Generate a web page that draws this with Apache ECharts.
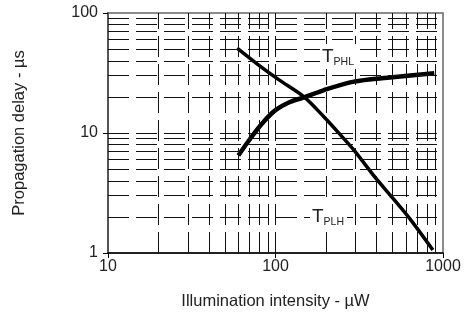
<!DOCTYPE html>
<html>
<head>
<meta charset="utf-8">
<script src="https://cdn.jsdelivr.net/npm/echarts@6/dist/echarts.min.js"></script>
<style>
  html, body { margin: 0; padding: 0; background: #fff; }
  #chart { width: 467px; height: 315px; }
</style>
</head>
<body>
<div id="chart"></div>
<script>
// T_PHL curve (falls with illumination)
var phlX = [59, 79, 105, 148, 195, 245, 294, 397, 500, 643, 870];
var phlY = [51, 37, 27.7, 20, 13.6, 9.6, 7.2, 4.2, 2.88, 1.88, 1.06];
// T_PLH curve (rises with illumination)
var plhX = [60, 70.8, 83.2, 100, 123, 148, 195, 294, 466, 887];
var plhY = [6.5, 9.0, 12.0, 15.5, 18.2, 19.8, 22.8, 26.8, 28.9, 31.5];

// dashed grid positions
var gridX = [20, 30, 40, 50, 60, 70, 80, 90, 100, 200, 300, 400, 500, 600, 700, 800, 900];
var gridY = [2, 3, 4, 5, 6, 7, 8, 9, 10, 20, 30, 40, 50, 60, 70, 80, 90];

var chart = echarts.init(document.getElementById('chart'));

function pairs(xs, ys) {
  return xs.map(function (x, i) { return [x, ys[i]]; });
}

var gridLines = gridX.map(function (v) { return { xAxis: v }; })
  .concat(gridY.map(function (v) { return { yAxis: v }; }));

var font = 'Liberation Sans, Arial, Helvetica, sans-serif';

chart.setOption({
  animation: false,
  grid: {
    left: 108, right: 24, top: 13, bottom: 62,
    show: true, borderColor: '#666', borderWidth: 1.5
  },
  xAxis: {
    type: 'log', logBase: 10, min: 10, max: 1000,
    name: 'Illumination intensity - µW',
    nameLocation: 'middle', nameGap: 40,
    nameTextStyle: { fontSize: 16.5, color: '#222', fontFamily: font },
    axisLine: { lineStyle: { color: '#000', width: 1.5 } },
    axisTick: { show: true, length: 5, lineStyle: { color: '#000' } },
    axisLabel: {
      fontSize: 16, color: '#222', margin: 6, fontFamily: font,
      formatter: function (v) { return String(Math.round(v)); }
    },
    splitLine: { show: false }
  },
  yAxis: {
    type: 'log', logBase: 10, min: 1, max: 100,
    name: 'Propagation delay - µs',
    nameLocation: 'middle', nameGap: 80,
    nameTextStyle: { fontSize: 16.5, color: '#222', fontFamily: font },
    axisLine: { show: true, lineStyle: { color: '#555', width: 2 } },
    axisTick: { show: true, length: 5, lineStyle: { color: '#000' } },
    axisLabel: {
      fontSize: 16, color: '#222', margin: 10, fontFamily: font,
      formatter: function (v) { return String(Math.round(v)); }
    },
    splitLine: { show: false }
  },
  series: [
    {
      type: 'line',
      data: [],
      silent: true,
      markLine: {
        silent: true,
        symbol: ['none', 'none'],
        label: { show: false },
        lineStyle: { color: '#111', width: 1, type: [21, 7] },
        data: gridLines
      }
    },
    {
      name: 'TPHL',
      type: 'line',
      data: pairs(phlX, phlY),
      smooth: 0.3,
      showSymbol: false,
      lineStyle: { color: '#000', width: 3.5 }
    },
    {
      name: 'TPLH',
      type: 'line',
      data: pairs(plhX, plhY),
      smooth: 0.3,
      showSymbol: false,
      lineStyle: { color: '#000', width: 4.5 }
    }
  ],
  graphic: [
    {
      type: 'text', left: 320, top: 44, z: 100,
      style: {
        text: '{t|T}{s|PHL}',
        backgroundColor: '#fff', padding: [1, 3, 1, 2],
        rich: {
          t: { fontSize: 19, fontFamily: font, fill: '#222' },
          s: { fontSize: 10.5, fontFamily: font, fill: '#222', padding: [12, 0, 0, 0] }
        }
      }
    },
    {
      type: 'text', left: 310, top: 204, z: 100,
      style: {
        text: '{t|T}{s|PLH}',
        backgroundColor: '#fff', padding: [1, 3, 1, 2],
        rich: {
          t: { fontSize: 19, fontFamily: font, fill: '#222' },
          s: { fontSize: 10.5, fontFamily: font, fill: '#222', padding: [12, 0, 0, 0] }
        }
      }
    }
  ]
});
</script>
</body>
</html>
